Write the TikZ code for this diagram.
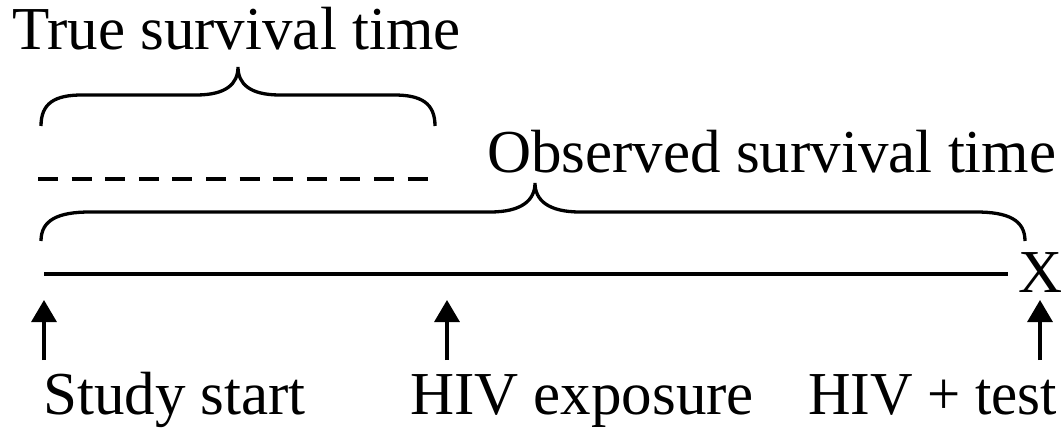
\documentclass[tikz,border=0pt]{standalone}
\usepackage{fontspec}
\usepackage{graphicx}
\setmainfont{Liberation Serif}
\usetikzlibrary{arrows.meta}
\tikzset{
  lbl/.style={font=\fontsize{61}{70}\selectfont, inner sep=0pt, anchor=base west},
  ln/.style={line width=3.3pt},
  brc/.style={line width=3.3pt},
  upar/.style={line width=3.3pt, -{Triangle[width=25pt,length=22pt]}},
  dsh/.style={line width=3.5pt, dash pattern=on 20pt off 13.6pt}
}
\begin{document}
\begin{tikzpicture}[x=1pt,y=-1pt]
\useasboundingbox (0,0) rectangle (1064,430);
% labels
\node[lbl] (true) at (12,50) {True survival time};
\node[lbl] (obs) at (487,173) {Observed survival time};
\node[lbl] (ss) at (43,414) {Study start};
\node[lbl] (hiv) at (410,414) {HIV exposure};
\node[lbl] (test) at (808,414) {\scalebox{0.965}[1]{HIV + test}};
\node[lbl] (x) at (1018,292) {X};
% main line
\coordinate (l0) at (44,274);
\coordinate (l1) at (1008,274);
\draw[ln] (l0) -- (l1);
% dashed line
\coordinate (d0) at (38,179);
\coordinate (d1) at (430,179);
\draw[dsh] (d0) -- (d1);
% top brace
\draw[brc] (41,126) .. controls (41,103) and (55,95) .. (82,95) -- (196,95)
  .. controls (226,95) and (238,84) .. (238,67)
  .. controls (238,84) and (250,95) .. (280,95) -- (394,95)
  .. controls (421,95) and (435,103) .. (435,126);
% bottom brace
\draw[brc] (41,241) .. controls (41,220) and (58,212) .. (90,212) -- (490,212)
  .. controls (522,212) and (535,200) .. (535,183)
  .. controls (535,200) and (548,212) .. (580,212) -- (976,212)
  .. controls (1008,212) and (1025,220) .. (1025,241);
% arrows
\coordinate (a1s) at (44,360);
\coordinate (a1e) at (44,300);
\coordinate (a2s) at (447,360);
\coordinate (a2e) at (447,300);
\coordinate (a3s) at (1040,360);
\coordinate (a3e) at (1040,300);
\draw[upar] (a1s) -- (a1e);
\draw[upar] (a2s) -- (a2e);
\draw[upar] (a3s) -- (a3e);
\end{tikzpicture}
\end{document}
